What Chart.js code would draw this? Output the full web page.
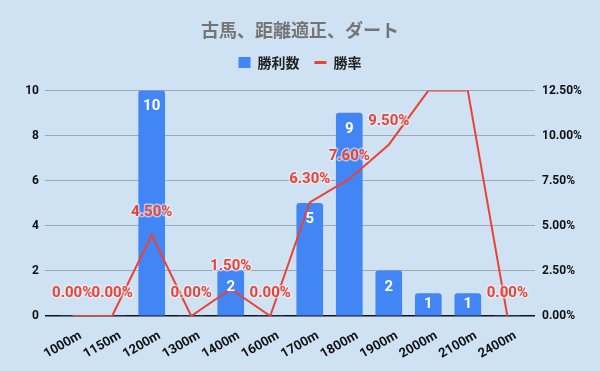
<!DOCTYPE html>
<html>
<head>
<meta charset="utf-8">
<script src="https://cdn.jsdelivr.net/npm/chart.js@4"></script>
<style>
  html, body { margin: 0; padding: 0; background: #cfe2f3; }
  #wrap { width: 600px; height: 371px; }
</style>
</head>
<body>
<div id="wrap"><canvas id="chart" width="600" height="371"></canvas></div>
<script>
const distances = ['1000m', '1150m', '1200m', '1300m', '1400m', '1600m', '1700m', '1800m', '1900m', '2000m', '2100m', '2400m'];
const wins = [0, 0, 10, 0, 2, 0, 5, 9, 2, 1, 1, 0];
const winRate = [0, 0, 4.5, 0, 1.5, 0, 6.3, 7.6, 9.5, 12.5, 12.5, 0];

const blue = '#4285f4';
const red = '#ea4335';
const gridGray = '#9ea8b3';

// value labels on bars and line points
const valueLabels = {
    id: 'valueLabels',
    afterDatasetsDraw(chart) {
        const ctx = chart.ctx;
        const area = chart.chartArea;
        ctx.save();
        ctx.textAlign = 'center';
        ctx.textBaseline = 'middle';
        ctx.font = 'bold 15px Roboto';

        const barMeta = chart.getDatasetMeta(0);
        barMeta.data.forEach((bar, i) => {
            if (!wins[i]) return;
            const h = bar.base - bar.y;
            ctx.fillStyle = '#ffffff';
            ctx.fillText(String(wins[i]), bar.x, bar.y + Math.min(16, h / 2));
        });

        const lineMeta = chart.getDatasetMeta(1);
        lineMeta.data.forEach((pt, i) => {
            const y = pt.y - 23;
            if (y - 8 < area.top) return;
            const txt = winRate[i].toFixed(2) + '%';
            ctx.lineWidth = 3;
            ctx.lineJoin = 'round';
            ctx.strokeStyle = 'rgba(235,242,250,0.6)';
            ctx.strokeText(txt, pt.x, y);
            ctx.fillStyle = red;
            ctx.fillText(txt, pt.x, y);
        });
        ctx.restore();
    }
};

function initChart() {
    new Chart(document.getElementById('chart'), {
        type: 'bar',
        data: {
            datasets: [
                {
                    type: 'bar',
                    label: '勝利数',
                    data: wins.map((v, i) => ({ x: i, y: v })),
                    backgroundColor: blue,
                    borderRadius: 3,
                    barThickness: 26,
                    yAxisID: 'y',
                    order: 2,
                },
                {
                    type: 'line',
                    label: '勝率',
                    data: winRate.map((v, i) => ({ x: i, y: v })),
                    borderColor: red,
                    backgroundColor: red,
                    borderWidth: 2,
                    pointRadius: 0,
                    tension: 0,
                    yAxisID: 'y1',
                    order: 1,
                }
            ]
        },
        options: {
            responsive: false,
            animation: false,
            layout: { padding: 0 },
            plugins: {
                tooltip: { enabled: false },
                title: {
                    display: true,
                    text: '古馬、距離適正、ダート',
                    color: '#757575',
                    font: { family: '"Noto Sans CJK JP"', size: 18, weight: 'bold' },
                    padding: { top: 19, bottom: 0 },
                },
                // empty spacer below the legend
                subtitle: {
                    display: true,
                    text: ' ',
                    weight: 500,
                    font: { size: 1 },
                    padding: { top: 0, bottom: 9.8 },
                },
                legend: {
                    display: true,
                    position: 'top',
                    labels: {
                        color: '#222222',
                        font: { family: '"Noto Sans CJK JP"', size: 14, weight: 'bold' },
                        usePointStyle: true,
                        pointStyleWidth: 12,
                        boxHeight: 11,
                        padding: 15,
                        sort: (a, b) => a.datasetIndex - b.datasetIndex,
                        generateLabels(chart) {
                            const items = Chart.defaults.plugins.legend.labels.generateLabels(chart);
                            items.forEach(it => {
                                if (it.datasetIndex === 1) {
                                    it.pointStyle = 'line';
                                    it.lineWidth = 3;
                                    it.strokeStyle = red;
                                } else {
                                    it.pointStyle = 'rect';
                                    it.lineWidth = 0;
                                }
                            });
                            return items;
                        }
                    }
                }
            },
            scales: {
                x: {
                    type: 'linear',
                    offset: false,
                    min: -0.7,
                    max: 11.7,
                    afterBuildTicks: (scale) => {
                        scale.ticks = distances.map((d, i) => ({ value: i }));
                    },
                    afterFit: (scale) => { scale.height = 55; },
                    grid: { display: false },
                    border: { display: false },
                    ticks: {
                        callback: (v) => distances[v],
                        color: '#111111',
                        font: { family: 'Roboto', size: 13, weight: 'bold' },
                        minRotation: 30,
                        maxRotation: 30,
                        padding: 4,
                        labelOffset: 8,
                    }
                },
                y: {
                    position: 'left',
                    min: 0,
                    max: 10,
                    afterFit: (scale) => { scale.width = 45; },
                    border: { display: false },
                    grid: {
                        drawTicks: false,
                        color: (c) => c.tick.value === 0 ? '#111111' : gridGray,
                        lineWidth: (c) => c.tick.value === 0 ? 1.5 : 1,
                    },
                    ticks: {
                        stepSize: 2,
                        padding: 6,
                        color: '#111111',
                        font: { family: 'Roboto', size: 12, weight: 'bold' },
                    }
                },
                y1: {
                    position: 'right',
                    min: 0,
                    max: 12.5,
                    afterFit: (scale) => { scale.width = 65; },
                    border: { display: false },
                    grid: { drawOnChartArea: false, drawTicks: false },
                    ticks: {
                        stepSize: 2.5,
                        padding: 7,
                        color: '#111111',
                        font: { family: 'Roboto', size: 12, weight: 'bold' },
                        callback: (v) => v.toFixed(2) + '%',
                    }
                }
            }
        },
        plugins: [valueLabels]
    });
}

initChart();
</script>
</body>
</html>
